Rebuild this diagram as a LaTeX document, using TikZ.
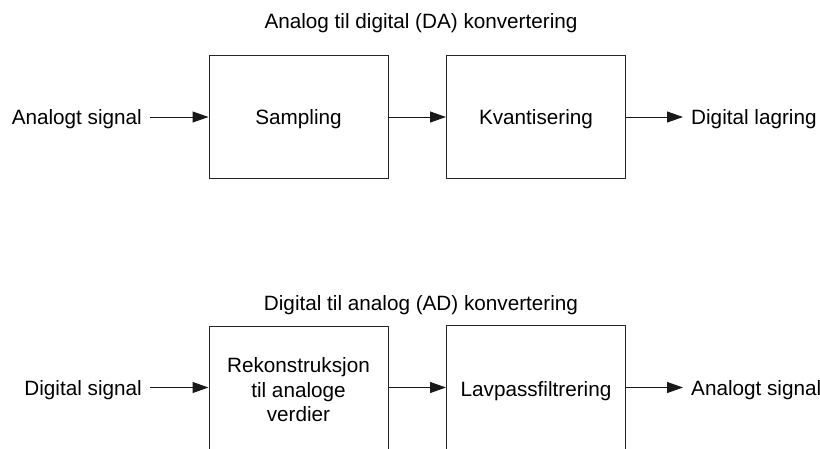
\documentclass[tikz,border=0pt]{standalone}
\usepackage{fontspec}
\setmainfont{Liberation Sans}
\usetikzlibrary{arrows.meta}
\begin{document}
\begin{tikzpicture}[x=1pt,y=-1pt,
  every node/.style={font=\fontsize{20.7}{24.5}\selectfont},
  block/.style={draw=black!85, line width=1pt, minimum width=179pt, inner sep=0pt},
  lbl/.style={inner xsep=8pt, inner ysep=0pt, text height=15pt, text depth=0pt},
  ttl/.style={inner sep=0pt, anchor=base},
  flow/.style={draw=black!90, line width=1pt, -{Triangle[length=16pt,width=11pt]}}]
\useasboundingbox (0,0) rectangle (820,448);
\clip (0,0) rectangle (820,448);

% analog to digital chain
\node[ttl] (tda) at (421,28) {Analog til digital (DA) konvertering};
\node[block, minimum height=123pt, text depth=0pt] (samp) at (298.5,116.5) {Sampling};
\node[block, minimum height=123pt, text depth=0pt] (kvant) at (536,116.5) {Kvantisering};
\node[lbl, anchor=base east] (ain) at (150,124.5) {Analogt signal};
\node[lbl, anchor=base west] (dout) at (683,124.5) {Digital lagring};
\draw[flow] (ain.east) -- (ain.east -| samp.west);
\draw[flow] (samp.east |- ain.east) -- (kvant.west |- ain.east);
\draw[flow] (kvant.east |- dout.west) -- (dout.west);

% digital to analog chain
\node[ttl] (tad) at (421,310) {Digital til analog (AD) konvertering};
\node[block, minimum height=127pt, align=center] (rek) at (298.5,390)
  {Rekonstruksjon\\til analoge\\verdier};
\node[block, minimum height=127pt, text depth=0pt] (lav) at (536,388.5) {Lavpassfiltrering};
\node[lbl, anchor=base east] (din) at (150,395) {Digital signal};
\node[lbl, anchor=base west] (aout) at (683,395) {Analogt signal};
\draw[flow] (din.east) -- (din.east -| rek.west);
\draw[flow] (rek.east |- din.east) -- (lav.west |- din.east);
\draw[flow] (lav.east |- aout.west) -- (aout.west);
\end{tikzpicture}
\end{document}
